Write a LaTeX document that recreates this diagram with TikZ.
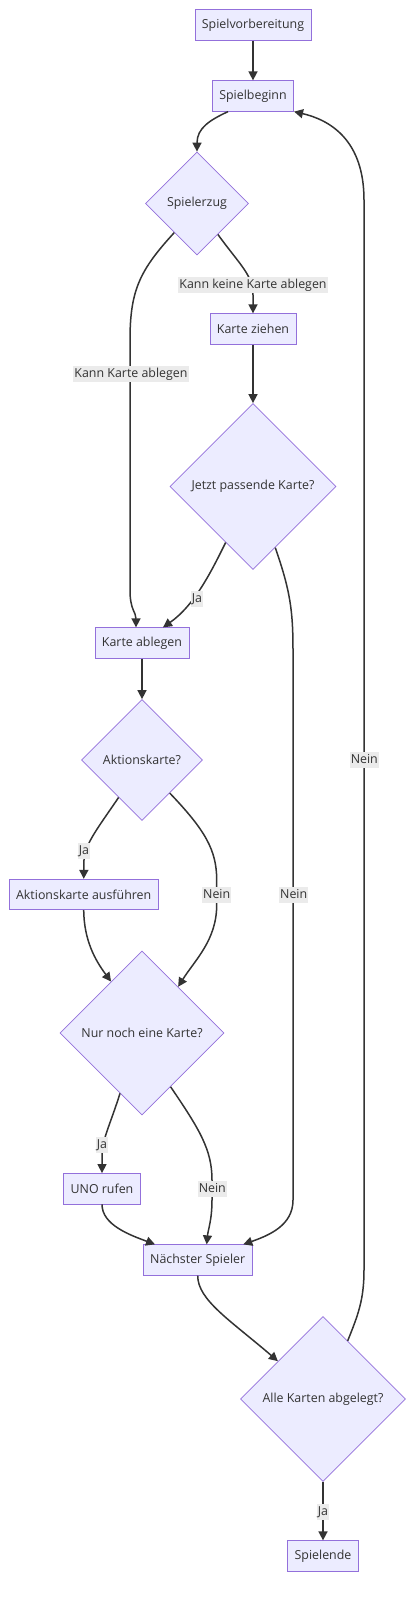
\documentclass[tikz,border=0pt]{standalone}
\usepackage{fontspec}
\setmainfont{Open Sans}
\usepackage{xcolor}
\usepackage{tikz}
\usetikzlibrary{positioning,arrows.meta,shapes.geometric}
\definecolor{nodefill}{HTML}{ECECFF}
\definecolor{nodeline}{HTML}{9370DB}
\definecolor{edgeline}{HTML}{333333}
\definecolor{lblfill}{HTML}{EBEBEB}

\begin{document}
\begin{tikzpicture}[x=1pt, y=-1pt,
  box/.style={draw=nodeline, fill=nodefill, line width=0.75pt, minimum height=30.5pt,
    inner xsep=7pt, text=edgeline, font=\fontsize{12.4}{14}\selectfont},
  decision/.style={draw=nodeline, fill=nodefill, diamond, aspect=1, inner sep=0pt,
    line width=0.75pt, text=edgeline, font=\fontsize{12.4}{14}\selectfont},
  edge/.style={-{Triangle[length=9pt,width=9pt]}, line width=1.5pt, draw=edgeline},
  lbl/.style={fill=lblfill, text=edgeline, inner xsep=1pt, inner ysep=2pt,
    text height=9pt, text depth=3pt, font=\fontsize{12.4}{14}\selectfont}]
\useasboundingbox (0,0) rectangle (416,1600);
\node[box] (vorb) at (253, 25) {Spielvorbereitung};
\node[box] (beginn) at (253, 96) {Spielbeginn};
\node[decision, minimum size=103pt] (zug) at (197, 203.5) {Spielerzug};
\node[box] (ziehen) at (253, 329) {Karte ziehen};
\node[decision, minimum size=166pt] (jetzt) at (253, 486.5) {Jetzt passende Karte?};
\node[box] (ablegen) at (142, 643) {Karte ablegen};
\node[decision, minimum size=121pt] (aktion) at (142, 760) {Aktionskarte?};
\node[box] (ausf) at (83.7, 894.5) {Aktionskarte ausführen};
\node[decision, minimum size=164pt] (nur) at (142, 1033) {Nur noch eine Karte?};
\node[box] (uno) at (102, 1188.7) {UNO rufen};
\node[box] (naechst) at (197.7, 1260) {Nächster Spieler};
\node[decision, minimum size=165pt] (alle) at (323, 1399) {Alle Karten abgelegt?};
\node[box] (ende) at (323, 1556) {Spielende};
% connectors
\draw[edge] (vorb.south) -- (beginn.north);
\draw[edge] ([xshift=-25pt]beginn.south) .. controls (210, 120) and (197, 128) .. (zug.north);
\draw[edge] (zug.-128) .. controls (140, 270) and (130, 290) .. (130, 340) -- (130, 590)
  .. controls (130, 610) and (136, 612) .. ([xshift=-6pt]ablegen.north);
\draw[edge] (zug.-56) .. controls (240, 265) and (253, 275) .. (253, 295) -- (ziehen.north);
\draw[edge] (ziehen.south) -- (jetzt.north);
\draw[edge] (jetzt.-116) .. controls (212, 570) and (195, 605) .. ([xshift=21pt]ablegen.north);
\draw[edge] (jetzt.-70) .. controls (290, 590) and (293, 610) .. (293, 650) -- (293, 1200)
  .. controls (293, 1225) and (270, 1235) .. ([xshift=45.6pt]naechst.north);
\draw[edge] (ablegen.south) -- (aktion.north);
\draw[edge] (aktion.-122) .. controls (100, 825) and (84, 845) .. (84, 860) -- (ausf.north);
\draw[edge] (aktion.-50) .. controls (205, 830) and (216.7, 850) .. (216.7, 880) -- (216.7, 905)
  .. controls (216.7, 940) and (195, 960) .. (nur.52);
\draw[edge] (ausf.south) .. controls (84, 940) and (95, 960) .. (nur.121);
\draw[edge] (nur.-110) .. controls (110, 1125) and (102, 1140) .. (102, 1155) -- (uno.north);
\draw[edge] (nur.-62) .. controls (200, 1130) and (212, 1150) .. (212, 1180) -- (212, 1200)
  .. controls (212, 1220) and (208, 1230) .. ([xshift=9pt]naechst.north);
\draw[edge] (uno.south) .. controls (102, 1225) and (130, 1235) .. ([xshift=-42.7pt]naechst.north);
\draw[edge] (naechst.south) .. controls (197.7, 1300) and (230, 1320) .. (alle.140);
\draw[edge] (alle.67) .. controls (358, 1315) and (364, 1300) .. (364, 1270) -- (364, 200)
  .. controls (364, 140) and (330, 120) .. (beginn.south east);
\draw[edge] (alle.south) -- (ende.north);
% edge labels
\node[lbl] (l1) at (253, 285) {Kann keine Karte ablegen};
\node[lbl] (l2) at (131, 374) {Kann Karte ablegen};
\node[lbl] (l3) at (197, 599) {Ja};
\node[lbl] (l4) at (84, 851) {Ja};
\node[lbl] (l5) at (216.7, 895) {Nein};
\node[lbl] (l6) at (293.7, 895) {Nein};
\node[lbl] (l7) at (364.3, 760) {Nein};
\node[lbl] (l8) at (102, 1145) {Ja};
\node[lbl] (l9) at (212.3, 1189) {Nein};
\node[lbl] (l10) at (323, 1512) {Ja};
\end{tikzpicture}
\end{document}
